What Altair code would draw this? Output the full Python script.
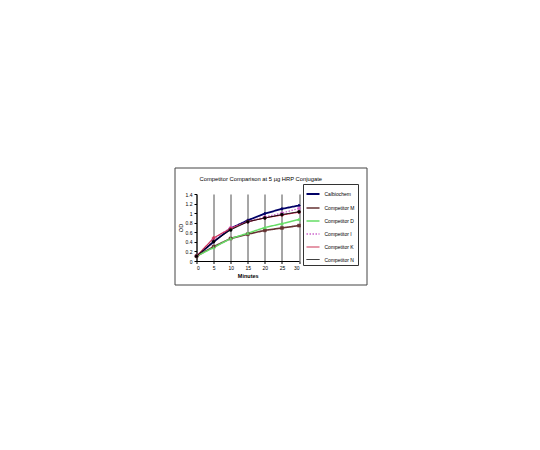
import altair as alt
import pandas as pd

minutes = [0, 5, 10, 15, 20, 25, 30]
series_names = ["Calbiochem", "Competitor M", "Competitor D", "Competitor I", "Competitor K", "Competitor N"]
calbiochem = [0.10, 0.40, 0.68, 0.85, 0.99, 1.09, 1.16]
comp_m = [0.10, 0.30, 0.47, 0.56, 0.64, 0.69, 0.74]
comp_d = [0.10, 0.28, 0.47, 0.58, 0.70, 0.78, 0.87]
comp_i = [0.10, 0.46, 0.70, 0.82, 0.92, 1.00, 1.10]
comp_k = [0.10, 0.48, 0.68, 0.82, 0.90, 0.96, 1.02]
comp_n = [0.10, 0.41, 0.65, 0.82, 0.90, 0.97, 1.03]

colors = ["#000066", "#663333", "#66dd66", "#cc66cc", "#cc3355", "#000000"]
shapes = ["diamond", "square", "triangle-up", "cross", "cross", "circle"]
dashes = [[1, 0], [1, 0], [1, 0], [1.5, 1.5], [1, 0], [1, 0]]
widths = [1.8, 1, 1, 1, 1, 1]
y_ticks = [0, 0.2, 0.4, 0.6, 0.8, 1, 1.2, 1.4]
x_ticks = [0, 5, 10, 15, 20, 25, 30]

rows = []
for name, vals in zip(series_names, [calbiochem, comp_m, comp_d, comp_i, comp_k, comp_n]):
    for m, v in zip(minutes, vals):
        rows.append({"Minutes": m, "OD": v, "Series": name})
df = pd.DataFrame(rows)

FONT = "Liberation Sans"

x = alt.X("Minutes:Q", scale=alt.Scale(domain=[0, 30], nice=False),
          axis=alt.Axis(values=x_ticks, grid=True, gridColor="#222222", gridOpacity=1,
                        gridWidth=0.8, title="Minutes", titleFontWeight="bold"))
y = alt.Y("OD:Q", scale=alt.Scale(domain=[0, 1.4], nice=False),
          axis=alt.Axis(values=y_ticks, grid=False, title="OD", labelExpr="'' + datum.value",
                        titleFontWeight="normal", titlePadding=2))

color = alt.Color("Series:N", scale=alt.Scale(domain=series_names, range=colors),
                  legend=alt.Legend(title=None, orient="none", legendX=106.5, legendY=-10,
                                    symbolType="stroke", symbolSize=169, symbolStrokeWidth=1.2,
                                    labelFontSize=5, labelFont=FONT, rowPadding=2,
                                    strokeColor="#333333", padding=2.5, labelLimit=80,
                                    labelOffset=4))
dash = alt.StrokeDash("Series:N", scale=alt.Scale(domain=series_names, range=dashes), legend=None)
sw = alt.StrokeWidth("Series:N", scale=alt.Scale(domain=series_names, range=widths), legend=None)

lines = alt.Chart(df).mark_line().encode(x=x, y=y, color=color, strokeDash=dash, strokeWidth=sw)

point_layers = []
for name, col, shp in zip(series_names, colors, shapes):
    point_layers.append(
        alt.Chart(df).transform_filter(alt.datum.Series == name)
        .mark_point(filled=True, size=9, opacity=1, shape=shp, fill=col, stroke=col, strokeWidth=0.5)
        .encode(x=x, y=y)
    )

frame = alt.Chart(pd.DataFrame({"a": [0]})).mark_rect(fill=None, stroke="#444444", strokeWidth=1).encode(
    x=alt.value(-21.5), x2=alt.value(170.5), y=alt.value(-26), y2=alt.value(91)
)

chart = alt.layer(frame, lines, *point_layers).properties(
    width=102.5, height=67,
    title=alt.TitleParams("Competitor Comparison at 5 µg HRP Conjugate", fontSize=5.8,
                          fontWeight="normal", font=FONT, frame="group", dx=13, offset=-14),
    autosize=alt.AutoSizeParams(type="none"),
    padding={"left": 188.5, "top": 186, "right": 200, "bottom": 150},
).configure_view(stroke=None).configure_axis(
    labelFont=FONT, titleFont=FONT, labelFontSize=5, titleFontSize=5.5,
    domainColor="black", tickColor="black", tickSize=2.5, labelColor="black", titleColor="black",
    labelPadding=2, titlePadding=3,
)

chart.save("out.html", embed_options={"renderer": "svg", "actions": False})
